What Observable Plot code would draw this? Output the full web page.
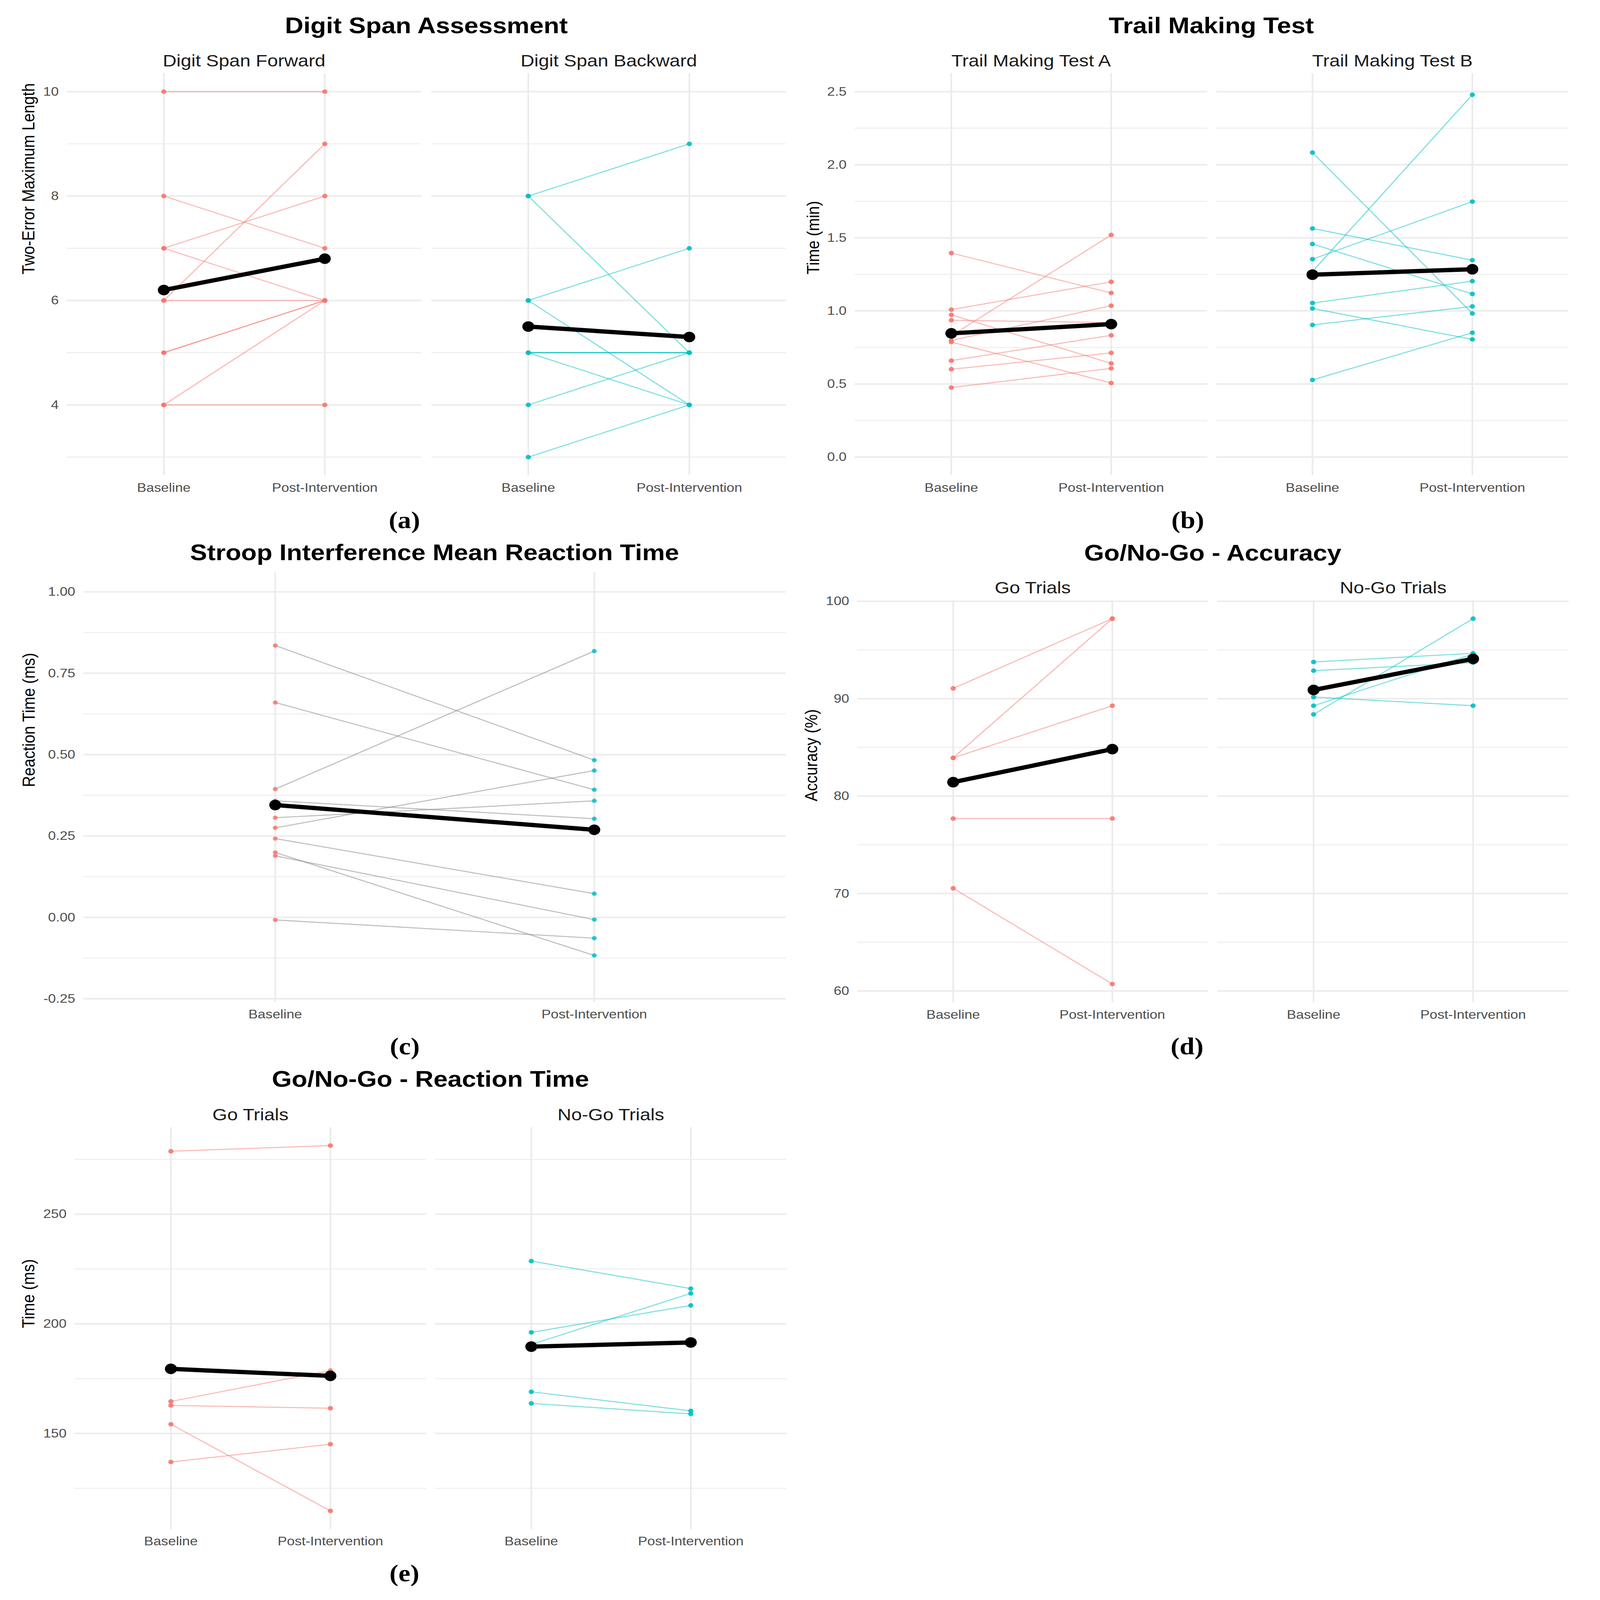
<!DOCTYPE html>
<html>
<head>
<meta charset="utf-8">
<script src="https://cdn.jsdelivr.net/npm/d3@7"></script>
<script src="https://cdn.jsdelivr.net/npm/@observablehq/plot@0.6"></script>
<style>
html, body { margin: 0; padding: 0; background: #fff; overflow: hidden; }
#page { position: absolute; left: 0; top: 0; width: 4293px; height: 4852px; background: #fff; overflow: hidden;
        transform-origin: 0 0;
        font-family: "Liberation Sans", Arial, Helvetica, sans-serif; }
.ttl { position: absolute; font-weight: bold; font-size: 68.5px; line-height: 1; white-space: nowrap;
       color: #000; transform: translateX(-50%); font-family: "Liberation Sans", Arial, sans-serif; }
.tag { position: absolute; font-family: "Liberation Serif", "Times New Roman", serif; font-weight: bold;
       font-size: 72px; line-height: 1; white-space: nowrap; color: #000; transform: translateX(-50%); }
.fig { position: absolute; }
.fig svg { display: block; max-width: none !important; }
</style>
</head>
<body>
<div id="page"></div>
<script>
// ---------------- data ----------------
const TIMES = ["Baseline", "Post-Intervention"];

// (a) Digit Span
const dsfBaseline = [10, 8, 7, 7, 6, 6, 5, 5, 4, 4];
const dsfPost     = [10, 7, 8, 6, 9, 6, 6, 6, 6, 4];
const dsbBaseline = [8, 8, 6, 6, 5, 5, 5, 5, 4, 3];
const dsbPost     = [9, 5, 7, 4, 5, 5, 5, 4, 5, 4];

// (b) Trail Making Test (min)
const tmtABaseline = [1.396, 1.009, 0.973, 0.936, 0.83, 0.798, 0.787, 0.660, 0.601, 0.476];
const tmtAPost     = [1.123, 1.199, 0.641, 0.92, 1.52, 1.036, 0.507, 0.833, 0.713, 0.607];
const tmtBBaseline = [2.083, 1.27, 1.564, 1.458, 1.354, 1.054, 1.017, 0.904, 0.528];
const tmtBPost     = [0.983, 2.479, 1.347, 1.116, 1.748, 1.204, 0.805, 1.031, 0.851];

// (c) Stroop interference
const stroopBaseline = [0.835, 0.660, 0.394, 0.358, 0.306, 0.275, 0.242, 0.1995, 0.189, -0.008];
const stroopPost     = [0.483, 0.392, 0.818, 0.303, 0.358, 0.451, 0.0727, -0.117, -0.007, -0.064];

// (d) Go/No-Go accuracy (%)
const goAccBaseline   = [91.06, 83.93, 83.93, 77.70, 70.54];
const goAccPost       = [98.22, 98.22, 89.28, 77.70, 60.71];
const nogoAccBaseline = [93.77, 92.88, 90.17, 89.28, 88.39];
const nogoAccPost     = [94.66, 93.70, 89.28, 94.59, 98.22];

// (e) Go/No-Go reaction time (ms)
const goRtBaseline   = [278.7, 164.6, 162.8, 154.2, 137.0];
const goRtPost       = [281.3, 178.7, 161.5, 114.7, 145.1];
const nogoRtBaseline = [228.6, 196.1, 190.6, 169.0, 163.7];
const nogoRtPost     = [216.05, 208.4, 213.9, 160.3, 158.9];

// tick values
const aMajor = [4, 6, 8, 10],            aMinor = [3, 5, 7, 9];
const bMajor = [0, 0.5, 1, 1.5, 2, 2.5], bMinor = [0.25, 0.75, 1.25, 1.75, 2.25];
const cMajor = [-0.25, 0, 0.25, 0.5, 0.75, 1], cMinor = [-0.125, 0.125, 0.375, 0.625, 0.875];
const dMajor = [60, 70, 80, 90, 100],    dMinor = [65, 75, 85, 95];
const eMajor = [150, 200, 250],          eMinor = [125, 175, 225, 275];

// titles
const titles = ["Digit Span Assessment", "Trail Making Test", "Stroop Interference Mean Reaction Time",
                "Go/No-Go - Accuracy", "Go/No-Go - Reaction Time"];
const tags = ["(a)", "(b)", "(c)", "(d)", "(e)"];

// ---------------- style ----------------
const RED = "#F8766D", TEAL = "#00BFC4", GRID = "#EBEBEB";
const DESIGN_W = 4293, DESIGN_H = 4852;
const page = document.getElementById("page");

// fit the whole figure into the actual viewport
function fitPage() {
  const vw = window.innerWidth || DESIGN_W, vh = window.innerHeight || DESIGN_H;
  const sx = vw / DESIGN_W, sy = vh / DESIGN_H;
  page.style.transform = (Math.abs(sx - 1) < 1e-6 && Math.abs(sy - 1) < 1e-6) ? "none" : `scale(${sx}, ${sy})`;
}
fitPage();
window.addEventListener("resize", fitPage);

function addText(cls, text, x, baseline, fs, factor) {
  const d = document.createElement("div");
  d.className = cls;
  d.textContent = text;
  d.style.left = x + "px";
  d.style.top = (baseline - factor * fs) + "px";
  page.appendChild(d);
}

const fmtInt = d => String(d);
const fmt1 = d => d.toFixed(1);
const fmt2 = d => d.toFixed(2);

function facet(o) {
  const svgLeft = o.showY ? o.regionLeft : o.left - 20;
  const svgTop = o.top - 130;
  const ml = o.left - svgLeft, mt = o.top - svgTop, mr = 20, mb = 100;
  const width = o.right + mr - svgLeft;
  const height = o.bottom + mb - svgTop;
  const rows = [];
  o.baseline.forEach((v, i) => rows.push({id: i, time: TIMES[0], value: v}));
  o.post.forEach((v, i) => rows.push({id: i, time: TIMES[1], value: v}));

  const marks = [
    Plot.gridY(o.minor, {stroke: GRID, strokeOpacity: 1, strokeWidth: 2.6}),
    Plot.gridY(o.major, {stroke: GRID, strokeOpacity: 1, strokeWidth: 4.5}),
    Plot.gridX(TIMES, {stroke: GRID, strokeOpacity: 1, strokeWidth: 4.5}),
    Plot.axisX({tickSize: 0, tickPadding: 23, label: null, color: "#4D4D4D"})
  ];
  if (o.showY) {
    marks.push(Plot.axisY(o.major, {tickSize: 0, tickPadding: 22, tickFormat: o.fmt, label: null, color: "#4D4D4D"}));
    marks.push(Plot.text([o.ylabel], {text: d => d, frameAnchor: "left", rotate: -90,
      dx: o.ylabelX - o.left, lineAnchor: "middle", fontSize: 47, fill: "#000"}));
  }
  if (o.strip) {
    marks.push(Plot.text([o.strip], {text: d => d, frameAnchor: "top", dy: -21, lineAnchor: "bottom",
      fontSize: 51, fill: "#1A1A1A"}));
  }
  if (o.stroop) {
    marks.push(Plot.line(rows, {x: "time", y: "value", z: "id", stroke: "#808080", strokeOpacity: 0.5, strokeWidth: 3.2}));
    marks.push(Plot.dot(rows, {filter: d => d.time === TIMES[0], x: "time", y: "value", r: 6.5, fill: RED, fillOpacity: 0.85}));
    marks.push(Plot.dot(rows, {filter: d => d.time === TIMES[1], x: "time", y: "value", r: 6.5, fill: TEAL, fillOpacity: 0.85}));
  } else {
    marks.push(Plot.line(rows, {x: "time", y: "value", z: "id", stroke: o.color, strokeOpacity: 0.5, strokeWidth: 3.2}));
    marks.push(Plot.dot(rows, {x: "time", y: "value", r: 7, fill: o.color, fillOpacity: 0.9}));
  }
  marks.push(Plot.line(rows, Plot.groupX({y: "mean"}, {x: "time", y: "value", stroke: "#000", strokeWidth: 13})));
  marks.push(Plot.dot(rows, Plot.groupX({y: "mean"}, {x: "time", y: "value", fill: "#000", r: 16})));

  const svg = Plot.plot({
    width, height,
    marginLeft: ml, marginRight: mr, marginTop: mt, marginBottom: mb,
    style: 'font-family: "Liberation Sans", Arial, sans-serif; font-size: 37.5px; overflow: visible; background: transparent; max-width: none;',
    x: {type: "point", domain: TIMES, padding: 0.6},
    y: {domain: o.domain, axis: o.showY ? undefined : null},
    marks
  });
  const wrap = document.createElement("div");
  wrap.className = "fig";
  wrap.style.left = svgLeft + "px";
  wrap.style.top = svgTop + "px";
  wrap.style.width = width + "px";
  wrap.style.height = height + "px";
  wrap.appendChild(svg);
  page.appendChild(wrap);
}

// ---------------- layout (design space 4293 x 4852) ----------------
const panels = [
  {regionLeft: 0, showY: true, left: 179, right: 1130, top: 222.2, bottom: 1441.3, domain: [2.65, 10.35],
   major: aMajor, minor: aMinor, fmt: fmtInt, ylabel: "Two-Error Maximum Length", ylabelX: 77,
   strip: "Digit Span Forward", baseline: dsfBaseline, post: dsfPost, color: RED},
  {showY: false, left: 1157, right: 2109, top: 222.2, bottom: 1441.3, domain: [2.65, 10.35],
   major: aMajor, minor: aMinor, strip: "Digit Span Backward", baseline: dsbBaseline, post: dsbPost, color: TEAL},
  {regionLeft: 2150, showY: true, left: 2293, right: 3239, top: 222.2, bottom: 1441.3, domain: [-0.125, 2.625],
   major: bMajor, minor: bMinor, fmt: fmt1, ylabel: "Time (min)", ylabelX: 2182,
   strip: "Trail Making Test A", baseline: tmtABaseline, post: tmtAPost, color: RED},
  {showY: false, left: 3263, right: 4208, top: 222.2, bottom: 1441.3, domain: [-0.125, 2.625],
   major: bMajor, minor: bMinor, strip: "Trail Making Test B", baseline: tmtBBaseline, post: tmtBPost, color: TEAL},
  {regionLeft: 0, showY: true, left: 223.5, right: 2108, top: 1735, bottom: 3038, domain: [-0.26, 1.06],
   major: cMajor, minor: cMinor, fmt: fmt2, ylabel: "Reaction Time (ms)", ylabelX: 78,
   strip: null, baseline: stroopBaseline, post: stroopPost, stroop: true},
  {regionLeft: 2150, showY: true, left: 2300, right: 3241, top: 1819.5, bottom: 3038.6, domain: [58.83, 100.1],
   major: dMajor, minor: dMinor, fmt: fmtInt, ylabel: "Accuracy (%)", ylabelX: 2177,
   strip: "Go Trials", baseline: goAccBaseline, post: goAccPost, color: RED},
  {showY: false, left: 3266, right: 4209, top: 1819.5, bottom: 3038.6, domain: [58.83, 100.1],
   major: dMajor, minor: dMinor, strip: "No-Go Trials", baseline: nogoAccBaseline, post: nogoAccPost, color: TEAL},
  {regionLeft: 0, showY: true, left: 200, right: 1143, top: 3418.4, bottom: 4637, domain: [106.37, 289.63],
   major: eMajor, minor: eMinor, fmt: fmtInt, ylabel: "Time (ms)", ylabelX: 77,
   strip: "Go Trials", baseline: goRtBaseline, post: goRtPost, color: RED},
  {showY: false, left: 1167, right: 2110, top: 3418.4, bottom: 4637, domain: [106.37, 289.63],
   major: eMajor, minor: eMinor, strip: "No-Go Trials", baseline: nogoRtBaseline, post: nogoRtPost, color: TEAL}
];
panels.forEach(facet);

// titles (centered over panel areas) and sub-figure tags
const titlePos = [[1144, 102], [3250, 102], [1166, 1700], [3254, 1701], [1155, 3296]];
titles.forEach((t, i) => addText("ttl", t, titlePos[i][0], titlePos[i][1], 68.5, 0.8465));
const tagPos = [[1085, 1601], [3187, 1601], [1086, 3197], [3185, 3197], [1085, 4795]];
tags.forEach((t, i) => addText("tag", t, tagPos[i][0], tagPos[i][1], 72, 0.8375));
</script>
</body>
</html>
